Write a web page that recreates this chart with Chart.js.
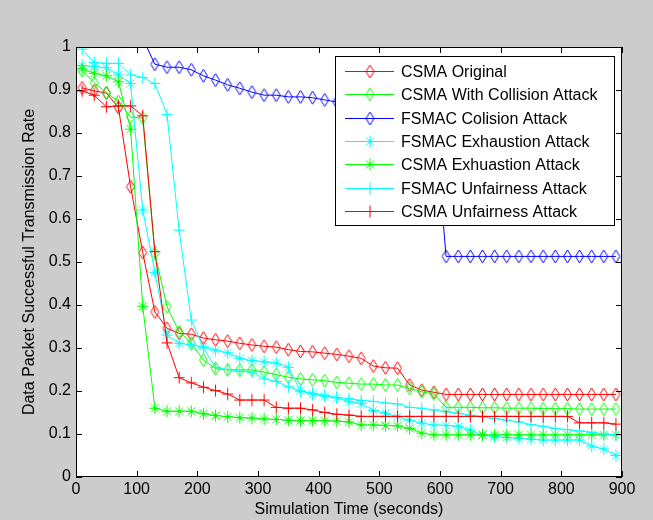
<!DOCTYPE html>
<html>
<head>
<meta charset="utf-8">
<title>Transmission rate</title>
<script src="https://cdn.jsdelivr.net/npm/chart.js@4.4.1/dist/chart.umd.min.js"></script>
<style>
  html, body { margin: 0; padding: 0; background: #cccccc; overflow: hidden; }
  canvas { display: block; }
</style>
</head>
<body>
<canvas id="chart" width="653" height="520"></canvas>
<script>
// simulation time of every sample (seconds)
var xValues = [10, 30, 50, 70, 90, 110, 130, 150, 170, 190, 210, 230, 250, 270, 290,
  310, 330, 350, 370, 390, 410, 430, 450, 470, 490, 510, 530, 550, 570, 590,
  610, 630, 650, 670, 690, 710, 730, 750, 770, 790, 810, 830, 850, 870, 890];

var csmaOriginal = [0.905, 0.898, 0.893, 0.859, 0.675, 0.522, 0.384, 0.346, 0.334, 0.332,
  0.323, 0.319, 0.316, 0.311, 0.307, 0.304, 0.302, 0.296, 0.292, 0.291,
  0.288, 0.285, 0.281, 0.276, 0.258, 0.254, 0.253, 0.214, 0.202, 0.197,
  0.192, 0.192, 0.192, 0.192, 0.192, 0.192, 0.192, 0.192, 0.192, 0.192,
  0.192, 0.192, 0.192, 0.192, 0.192];
var csmaCollision = [0.945, 0.917, 0.894, 0.873, 0.837, 0.835, 0.52, 0.396, 0.338, 0.311,
  0.272, 0.252, 0.249, 0.249, 0.249, 0.244, 0.238, 0.232, 0.228, 0.226,
  0.224, 0.22, 0.218, 0.216, 0.216, 0.214, 0.214, 0.206, 0.198, 0.193,
  0.162, 0.162, 0.162, 0.161, 0.161, 0.16, 0.16, 0.16, 0.159, 0.159,
  0.159, 0.158, 0.158, 0.158, 0.158];
var fsmacCollision = [null, null, null, null, null, 1.02, 0.96, 0.953, 0.953, 0.947,
  0.933, 0.923, 0.912, 0.904, 0.895, 0.888, 0.888, 0.884, 0.884, 0.882,
  0.877, 0.872, 0.868, 0.866, 0.863, 0.86, 0.858, 0.856, 0.855, 0.853,
  0.513, 0.513, 0.513, 0.513, 0.513, 0.513, 0.513, 0.513, 0.513, 0.513,
  0.513, 0.513, 0.513, 0.513, 0.513];
var fsmacExhaustion = [0.957, 0.955, 0.952, 0.935, 0.915, 0.621, 0.476, 0.33, 0.311, 0.307,
  0.303, 0.295, 0.289, 0.276, 0.271, 0.268, 0.265, 0.255, 0.2, 0.193,
  0.188, 0.184, 0.175, 0.171, 0.155, 0.148, 0.14, 0.132, 0.125, 0.121,
  0.12, 0.118, 0.109, 0.097, 0.094, 0.092, 0.09, 0.088, 0.086, 0.086,
  0.086, 0.086, 0.072, 0.065, 0.05];
var csmaExhaustion = [0.949, 0.939, 0.933, 0.919, 0.809, 0.397, 0.16, 0.153, 0.153, 0.153,
  0.147, 0.143, 0.14, 0.138, 0.137, 0.135, 0.134, 0.132, 0.131, 0.131,
  0.131, 0.13, 0.128, 0.121, 0.121, 0.12, 0.119, 0.113, 0.102, 0.098,
  0.098, 0.098, 0.098, 0.098, 0.098, 0.098, 0.098, 0.098, 0.098, 0.098,
  0.098, 0.098, 0.098, 0.098, 0.098];
var fsmacUnfairness = [0.995, 0.964, 0.962, 0.962, 0.935, 0.929, 0.915, 0.843, 0.574, 0.365,
  0.3, 0.255, 0.25, 0.246, 0.244, 0.228, 0.222, 0.21, 0.2, 0.195,
  0.19, 0.185, 0.182, 0.178, 0.176, 0.172, 0.17, 0.162, 0.16, 0.156,
  0.152, 0.148, 0.144, 0.14, 0.136, 0.132, 0.128, 0.122, 0.118, 0.113,
  0.11, 0.107, 0.104, 0.1, 0.098];
var csmaUnfairness = [0.898, 0.888, 0.861, 0.863, 0.863, 0.84, 0.524, 0.312, 0.231, 0.219,
  0.209, 0.201, 0.193, 0.179, 0.179, 0.179, 0.162, 0.16, 0.16, 0.156,
  0.15, 0.146, 0.144, 0.141, 0.141, 0.141, 0.141, 0.141, 0.141, 0.141,
  0.141, 0.141, 0.141, 0.141, 0.141, 0.141, 0.141, 0.141, 0.141, 0.141,
  0.141, 0.126, 0.126, 0.126, 0.123];

var seriesNames = ['CSMA Original', 'CSMA With Collision Attack', 'FSMAC Colision Attack',
  'FSMAC Exhaustion Attack', 'CSMA Exhuastion Attack', 'FSMAC Unfairness Attack',
  'CSMA Unfairness Attack'];
var seriesValues = [csmaOriginal, csmaCollision, fsmacCollision, fsmacExhaustion,
  csmaExhaustion, fsmacUnfairness, csmaUnfairness];

var xTicks = [0, 100, 200, 300, 400, 500, 600, 700, 800, 900];
var xTickLabels = ['0', '100', '200', '300', '400', '500', '600', '700', '800', '900'];
var yTicks = [0, 0.1, 0.2, 0.3, 0.4, 0.5, 0.6, 0.7, 0.8, 0.9, 1];
var yTickLabels = ['0', '0.1', '0.2', '0.3', '0.4', '0.5', '0.6', '0.7', '0.8', '0.9', '1'];

var xTitle = 'Simulation Time (seconds)';
var yTitle = 'Data Packet Successful Transmission Rate';

var colors = ['#ff0000', '#00ff00', '#0000ff', '#00ffff', '#00ff00', '#00ffff', '#ff0000'];
var markers = ['diamond', 'diamond', 'diamond', 'asterisk', 'asterisk', 'plus', 'plus'];

// matlab style marker drawn once into a small canvas
function makeMarker(kind, color) {
    var c = document.createElement('canvas');
    c.width = 13;
    c.height = 15;
    var g = c.getContext('2d');
    var cx = 6.5, cy = 7.5;
    g.strokeStyle = color;
    g.lineWidth = 1;
    g.beginPath();
    if (kind === 'diamond') {
        g.moveTo(cx, cy - 6.5);
        g.lineTo(cx + 4, cy);
        g.lineTo(cx, cy + 6.5);
        g.lineTo(cx - 4, cy);
        g.closePath();
    } else {
        g.moveTo(cx - 5.5, cy);
        g.lineTo(cx + 5.5, cy);
        g.moveTo(cx, cy - 6);
        g.lineTo(cx, cy + 6);
        if (kind === 'asterisk') {
            g.moveTo(cx - 4, cy - 4);
            g.lineTo(cx + 4, cy + 4);
            g.moveTo(cx + 4, cy - 4);
            g.lineTo(cx - 4, cy + 4);
        }
    }
    g.stroke();
    return c;
}

var markerImages = markers.map(function (m, i) { return makeMarker(m, colors[i]); });

var datasets = seriesValues.map(function (values, i) {
    return {
        label: seriesNames[i],
        data: xValues.map(function (x, j) { return { x: x, y: values[j] }; }),
        borderColor: colors[i],
        backgroundColor: colors[i],
        borderWidth: 1,
        pointStyle: markerImages[i],
        pointRadius: 6,
        tension: 0,
        order: seriesValues.length - 1 - i
    };
});

var fontFamily = '"Liberation Sans", Arial, Helvetica, sans-serif';

// grey figure, white axes, box with inward ticks and the legend inside the axes
var matlabFrame = {
    id: 'matlabFrame',
    beforeDraw: function (chart) {
        var ctx = chart.ctx, a = chart.chartArea;
        ctx.save();
        ctx.fillStyle = '#cccccc';
        ctx.fillRect(0, 0, chart.width, chart.height);
        ctx.fillStyle = '#ffffff';
        ctx.fillRect(a.left, a.top, a.right - a.left, a.bottom - a.top);
        ctx.restore();
    },
    afterDraw: function (chart) {
        var ctx = chart.ctx, a = chart.chartArea;
        var xs = chart.scales.x, ys = chart.scales.y;
        var tl = 6;
        ctx.save();
        ctx.strokeStyle = '#000000';
        ctx.lineWidth = 1;
        ctx.beginPath();
        xTicks.forEach(function (v) {
            var px = Math.round(xs.getPixelForValue(v)) + 0.5;
            ctx.moveTo(px, a.bottom);
            ctx.lineTo(px, a.bottom - tl);
            ctx.moveTo(px, a.top);
            ctx.lineTo(px, a.top + tl);
        });
        yTicks.forEach(function (v) {
            var py = Math.round(ys.getPixelForValue(v)) + 0.5;
            ctx.moveTo(a.left, py);
            ctx.lineTo(a.left + tl, py);
            ctx.moveTo(a.right, py);
            ctx.lineTo(a.right - tl, py);
        });
        ctx.stroke();
        ctx.strokeRect(Math.round(a.left) + 0.5, Math.round(a.top) + 0.5,
            Math.round(a.right - a.left) - 1, Math.round(a.bottom - a.top) - 1);

        // legend
        var lx = 335, ly = 56, lw = 279, lh = 169;
        ctx.fillStyle = '#ffffff';
        ctx.fillRect(lx, ly, lw, lh);
        ctx.strokeRect(lx + 0.5, ly + 0.5, lw, lh);
        ctx.font = '16px ' + fontFamily;
        ctx.textBaseline = 'middle';
        ctx.textAlign = 'left';
        seriesNames.forEach(function (name, i) {
            var y = Math.round(ly + 15 + i * 23.35) + 0.5;
            ctx.strokeStyle = colors[i];
            ctx.beginPath();
            ctx.moveTo(lx + 10, y);
            ctx.lineTo(lx + 59, y);
            ctx.stroke();
            var img = markerImages[i];
            ctx.drawImage(img, lx + 35 - img.width / 2, y - img.height / 2);
            ctx.fillStyle = '#000000';
            ctx.fillText(name, lx + 66, y + 1);
        });
        ctx.restore();
    }
};

Chart.defaults.font.family = fontFamily;
Chart.defaults.font.size = 16;
Chart.defaults.color = '#000000';

var chart = new Chart(document.getElementById('chart'), {
    type: 'line',
    data: { datasets: datasets },
    options: {
        responsive: false,
        animation: false,
        devicePixelRatio: 1,
        layout: { padding: { left: 0, top: 47, right: 31, bottom: 0 } },
        plugins: {
            legend: { display: false },
            tooltip: { enabled: false }
        },
        scales: {
            x: {
                type: 'linear',
                min: 0,
                max: 900,
                grid: { display: false, drawTicks: false },
                border: { display: false },
                afterBuildTicks: function (scale) {
                    scale.ticks = xTicks.map(function (v) { return { value: v }; });
                },
                afterFit: function (scale) { scale.height = 43; },
                ticks: {
                    autoSkip: false,
                    maxRotation: 0,
                    padding: 3,
                    callback: function (v) { return xTickLabels[xTicks.indexOf(v)]; }
                },
                title: { display: true, text: xTitle, padding: { top: 0, bottom: 1 } }
            },
            y: {
                min: 0,
                max: 1,
                grid: { display: false, drawTicks: false },
                border: { display: false },
                afterBuildTicks: function (scale) {
                    scale.ticks = yTicks.map(function (v) { return { value: v }; });
                },
                afterFit: function (scale) { scale.width = 76; },
                ticks: {
                    autoSkip: false,
                    padding: 5,
                    callback: function (v) {
                        var k = yTicks.indexOf(Math.round(v * 10) / 10);
                        return yTickLabels[k];
                    }
                },
                title: { display: true, text: yTitle, padding: { top: 20, bottom: 0 } }
            }
        }
    },
    plugins: [matlabFrame]
});
</script>
</body>
</html>
